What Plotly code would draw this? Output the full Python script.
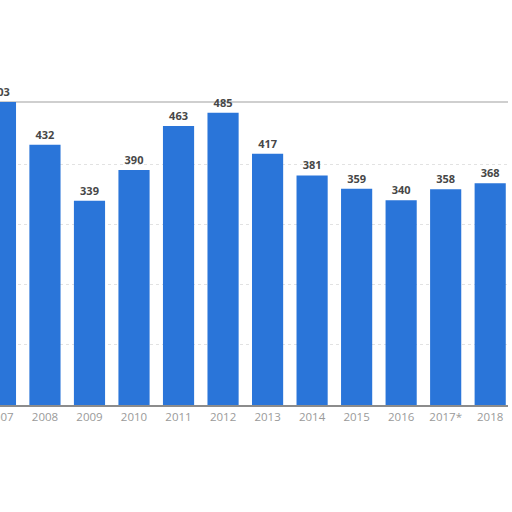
import plotly.graph_objects as go

# categories and values (first bar is cut at the left edge)
years = ["2007", "2008", "2009", "2010", "2011", "2012", "2013",
         "2014", "2015", "2016", "2017*", "2018"]
values = [503, 432, 339, 390, 463, 485, 417, 381, 359, 340, 358, 368]

fig = go.Figure(
    go.Bar(
        x=years,
        y=values,
        marker=dict(color="#2a75d9", line=dict(width=0)),
        width=0.7,
        text=[str(v) for v in values],
        textposition="outside",
        textfont=dict(family="Open Sans", size=11, color="#474747", weight="bold"),
        cliponaxis=False,
        hoverinfo="skip",
    )
)

fig.update_layout(
    width=512,
    height=512,
    margin=dict(l=0, r=4, t=102, b=107, autoexpand=False),
    paper_bgcolor="white",
    plot_bgcolor="white",
    showlegend=False,
)

fig.update_xaxes(
    type="category",
    range=[-0.01, 11.4],
    automargin=False,
    showgrid=False,
    showline=True,
    linecolor="#8c8c8c",
    linewidth=2,
    ticks="",
    tickfont=dict(family="Open Sans", size=11.5, color="#9a9a9a"),
    fixedrange=True,
)

fig.update_yaxes(
    range=[0, 503],
    automargin=False,
    tickvals=[100, 200, 300, 400],
    showticklabels=False,
    showgrid=True,
    gridcolor="#e2e2e2",
    griddash="dot",
    gridwidth=1,
    zeroline=False,
    showline=False,
    fixedrange=True,
)

# thin grey border along the top of the plot area
fig.add_shape(
    type="line", xref="paper", yref="paper",
    x0=0, x1=1, y0=1, y1=1,
    line=dict(color="#cfcfcf", width=2),
    layer="below",
)

# the page body has an 8px default margin; drop it so the figure sits at 0,0
fig.write_html(
    "out.html",
    config={"displayModeBar": False},
    post_script="document.body.style.margin='0';",
)
